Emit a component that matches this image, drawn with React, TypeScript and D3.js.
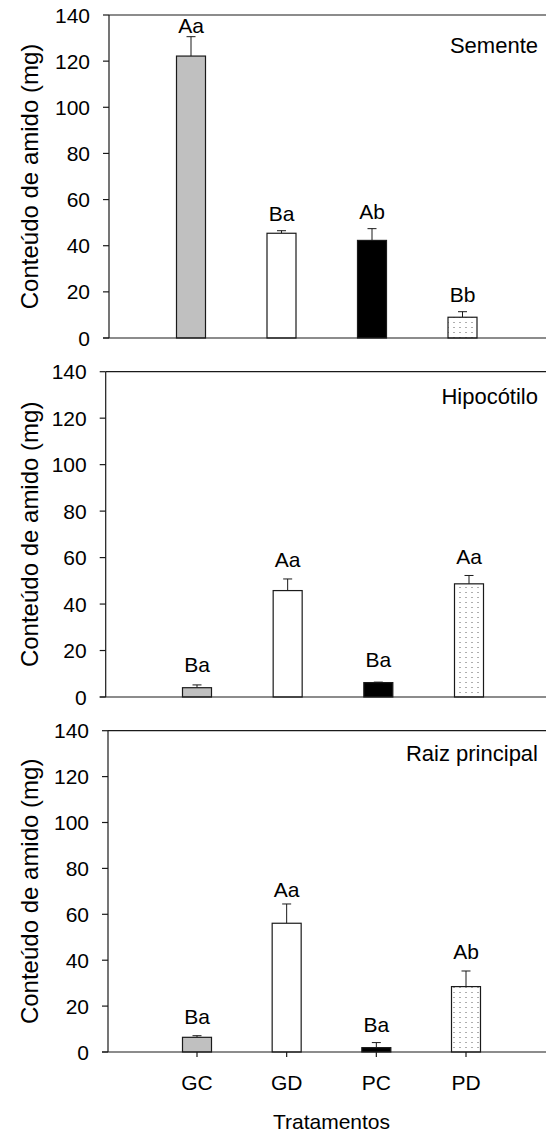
import React from "react";
import * as d3 from "d3";

// data (mg of starch)
const categories = ["GC", "GD", "PC", "PD"];
const fills = ["#c0c0c0", "#ffffff", "#000000", "url(#dots)"];
const yTicks = [0, 20, 40, 60, 80, 100, 120, 140];

const sementeMeans = [122.2, 45.4, 42.3, 9.0];
const sementeErrors = [8.4, 1.1, 5.1, 2.4];
const sementeLetters = ["Aa", "Ba", "Ab", "Bb"];
const sementeLabelAt = [132.2, 50.7, 51.6, 15.7];

const hipocotiloMeans = [4.0, 45.8, 6.2, 48.7];
const hipocotiloErrors = [1.2, 5.0, 0.2, 3.6];
const hipocotiloLetters = ["Ba", "Aa", "Ba", "Aa"];
const hipocotiloLabelAt = [10.8, 56, 12.9, 57.3];

const raizMeans = [6.4, 56.1, 1.9, 28.5];
const raizErrors = [0.7, 8.4, 2.2, 6.8];
const raizLetters = ["Ba", "Aa", "Ba", "Ab"];
const raizLabelAt = [12.2, 67.7, 8.9, 40.6];

const W = 546;
const H = 1137;
const FONT = "'Liberation Sans', Arial, Helvetica, sans-serif";
const INK = "#1a1a1a";

type PanelProps = {
  name: string;
  means: number[];
  errors: number[];
  letters: string[];
  labelAt: number[];
  top: number;
  bottom: number;
  axisX: number;
  xFirst: number;
  xLast: number;
  nameBaseline: number;
  showXAxis?: boolean;
};

function Panel(p: PanelProps) {
  const y = d3.scaleLinear().domain([0, 140]).range([p.bottom, p.top]);
  const x = d3.scalePoint<string>().domain(categories).range([p.xFirst, p.xLast]);
  const bw = 29;
  const tick = 6;
  const mid = (p.top + p.bottom) / 2;

  return (
    <g>
      {/* bars with error bars and letters */}
      {categories.map((c, i) => {
        const cx = x(c)!;
        const yTop = y(p.means[i]);
        const yErr = y(p.means[i] + p.errors[i]);
        return (
          <g key={c}>
            <line x1={cx} x2={cx} y1={yTop} y2={yErr} stroke={INK} strokeWidth={1} />
            <line x1={cx - 4.5} x2={cx + 4.5} y1={yErr} y2={yErr} stroke={INK} strokeWidth={1} />
            <rect
              x={cx - bw / 2}
              y={yTop}
              width={bw}
              height={p.bottom - yTop}
              fill={fills[i]}
              stroke={INK}
              strokeWidth={1.2}
            />
            <text x={cx} y={y(p.labelAt[i])} textAnchor="middle" fontSize={21} fontFamily={FONT} fill="#000">
              {p.letters[i]}
            </text>
          </g>
        );
      })}

      {/* frame: left axis, top line, bottom axis */}
      <line x1={p.axisX} x2={p.axisX} y1={p.top} y2={p.bottom} stroke={INK} strokeWidth={1.2} />
      <line x1={p.axisX} x2={W} y1={p.top} y2={p.top} stroke={INK} strokeWidth={1.2} />
      <line x1={p.axisX - tick} x2={W} y1={p.bottom} y2={p.bottom} stroke={INK} strokeWidth={1.2} />

      {yTicks.map((t) => (
        <g key={t}>
          <line x1={p.axisX - tick} x2={p.axisX} y1={y(t)} y2={y(t)} stroke={INK} strokeWidth={1.2} />
          <text
            x={p.axisX - 19}
            y={y(t)}
            dy="0.36em"
            textAnchor="end"
            fontSize={21}
            fontFamily={FONT}
            fill="#000"
          >
            {t}
          </text>
        </g>
      ))}

      {p.showXAxis &&
        categories.map((c) => (
          <g key={c}>
            <line x1={x(c)!} x2={x(c)!} y1={p.bottom} y2={p.bottom + 5} stroke={INK} strokeWidth={1.2} />
            <text x={x(c)!} y={p.bottom + 38} textAnchor="middle" fontSize={21} fontFamily={FONT} fill="#000">
              {c}
            </text>
          </g>
        ))}

      <text x={538} y={p.nameBaseline} textAnchor="end" fontSize={22} fontFamily={FONT} fill="#000">
        {p.name}
      </text>

      <text
        transform={`translate(37.5,${mid}) rotate(-90)`}
        textAnchor="middle"
        fontSize={24}
        fontFamily={FONT}
        fill="#000"
      >
        Conteúdo de amido (mg)
      </text>
    </g>
  );
}

export default function App() {
  return (
    <svg
      width={W}
      height={H}
      viewBox={`0 0 ${W} ${H}`}
      style={{ position: "absolute", left: 0, top: 0, display: "block", background: "#fff" }}
    >
      <defs>
        <pattern id="dots" width={6} height={5} patternUnits="userSpaceOnUse" x={1} y={0}>
          <rect width={6} height={5} fill="#fff" />
          <circle cx={3} cy={2.5} r={0.55} fill="#444" />
        </pattern>
      </defs>
      <rect width={W} height={H} fill="#fff" />

      <Panel
        name="Semente"
        means={sementeMeans}
        errors={sementeErrors}
        letters={sementeLetters}
        labelAt={sementeLabelAt}
        top={15}
        bottom={338}
        axisX={109}
        xFirst={191}
        xLast={462.5}
        nameBaseline={53}
      />
      <Panel
        name="Hipocótilo"
        means={hipocotiloMeans}
        errors={hipocotiloErrors}
        letters={hipocotiloLetters}
        labelAt={hipocotiloLabelAt}
        top={371.7}
        bottom={697}
        axisX={105.7}
        xFirst={197}
        xLast={469}
        nameBaseline={404}
      />
      <Panel
        name="Raiz principal"
        means={raizMeans}
        errors={raizErrors}
        letters={raizLetters}
        labelAt={raizLabelAt}
        top={730.7}
        bottom={1052}
        axisX={108}
        xFirst={197}
        xLast={466}
        nameBaseline={760.7}
        showXAxis
      />

      <text x={331.5} y={1129} textAnchor="middle" fontSize={21} fontFamily={FONT} fill="#000">
        Tratamentos
      </text>
    </svg>
  );
}
